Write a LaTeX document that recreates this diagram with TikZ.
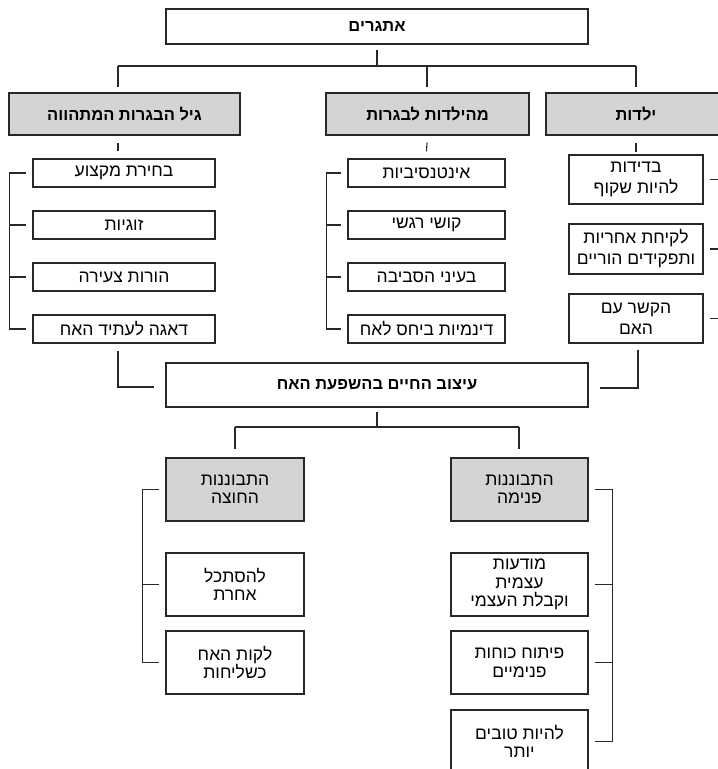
\documentclass[tikz,border=0pt]{standalone}
\usepackage{fontspec}
\setmainfont{Liberation Sans}
\newfontfamily\hebsans[Script=Hebrew]{Liberation Sans}
\TeXXeTstate=1
\usetikzlibrary{calc}
\newcommand\heb[1]{\beginR #1\endR}
\definecolor{boxgray}{RGB}{211,212,214}
\definecolor{linecol}{RGB}{40,40,40}
\tikzset{
  base/.style={draw=linecol, line width=1.1pt, inner sep=0pt, align=center, text=black},
  plainbox/.style={base, fill=white, font=\fontsize{17.5}{21}\hebsans},
  lowbox/.style={base, fill=white, font=\fontsize{17.5}{18.5}\hebsans},
  boldbox/.style={base, fill=white, font=\fontsize{16.5}{21}\hebsans\bfseries},
  grayhead/.style={base, fill=boxgray, font=\fontsize{16.5}{21}\hebsans\bfseries},
  graybox/.style={base, fill=boxgray, font=\fontsize{17.5}{18.5}\hebsans},
  conn/.style={draw=linecol, line width=1.1pt},
}
\begin{document}
\begin{tikzpicture}[x=1pt,y=-1pt]
\clip (0,0) rectangle (718,769);
\fill[white] (0,0) rectangle (718,769);
% top level
\node[boldbox, minimum width=422pt, minimum height=35pt] (top) at (377,26.5) {\heb{אתגרים}};
\node[grayhead, minimum width=231pt, minimum height=42pt] (g1) at (124.5,114) {\heb{גיל הבגרות המתהווה}};
\node[grayhead, minimum width=203pt, minimum height=42pt] (g2) at (427.5,114) {\heb{מהילדות לבגרות}};
\node[grayhead, minimum width=180pt, minimum height=42pt] (g3) at (636,114) {\heb{ילדות}};
% left column
\node[plainbox, minimum width=182pt, minimum height=28pt] (l1) at (124,173) {\heb{בחירת מקצוע}};
\node[plainbox, minimum width=182pt, minimum height=28pt] (l2) at (124,225) {\heb{זוגיות}};
\node[plainbox, minimum width=182pt, minimum height=28pt] (l3) at (124,277) {\heb{הורות צעירה}};
\node[plainbox, minimum width=182pt, minimum height=28pt] (l4) at (124,329) {\heb{דאגה לעתיד האח}};
% middle column
\node[plainbox, minimum width=157pt, minimum height=28pt] (m1) at (426.5,173) {\heb{אינטנסיביות}};
\node[plainbox, minimum width=157pt, minimum height=28pt] (m2) at (426.5,225) {\heb{קושי רגשי}};
\node[plainbox, minimum width=157pt, minimum height=28pt] (m3) at (426.5,277) {\heb{בעיני הסביבה}};
\node[plainbox, minimum width=157pt, minimum height=28pt] (m4) at (426.5,329) {\heb{דינמיות ביחס לאח}};
% right column
\node[plainbox, minimum width=134pt, minimum height=49pt] (r1) at (636,179.5) {\heb{בדידות}\\\heb{להיות שקוף}};
\node[plainbox, minimum width=134pt, minimum height=50pt] (r2) at (636,249) {\heb{לקיחת אחריות}\\\heb{ותפקידים הוריים}};
\node[plainbox, minimum width=134pt, minimum height=49pt] (r3) at (636,318.5) {\heb{הקשר עם}\\\heb{האם}};
% middle box
\node[boldbox, minimum width=422pt, minimum height=44pt] (mid) at (377,385) {\heb{עיצוב החיים בהשפעת האח}};
% lower level
\node[graybox, minimum width=138pt, minimum height=63pt] (p1) at (235,489.5) {\heb{התבוננות}\\\heb{החוצה}};
\node[graybox, minimum width=137pt, minimum height=63pt] (p2) at (519.5,489.5) {\heb{התבוננות}\\\heb{פנימה}};
\node[lowbox, minimum width=138pt, minimum height=63pt] (q1) at (235,584.5) {\heb{להסתכל}\\\heb{אחרת}};
\node[lowbox, minimum width=138pt, minimum height=63pt] (q2) at (235,662.5) {\heb{לקות האח}\\\heb{כשליחות}};
\node[lowbox, minimum width=137pt, minimum height=63pt] (s1) at (519.5,584.5) {\heb{מודעות}\\\heb{עצמית}\\\heb{וקבלת העצמי}};
\node[lowbox, minimum width=137pt, minimum height=63pt] (s2) at (519.5,662.5) {\heb{פיתוח כוחות}\\\heb{פנימיים}};
\node[lowbox, minimum width=137pt, minimum height=63pt] (s3) at (519.5,741.5) {\heb{להיות טובים}\\\heb{יותר}};
% connectors top
\coordinate (busA) at (118,66);
\coordinate (busB) at (636,66);
\draw[conn] (busA) -- (busB);
\draw[conn] ($(top.south)+(0,5)$) -- (top.south |- busA);
\draw[conn] (busA) -- ($(busA |- g1.north)+(0,-5)$);
\draw[conn] ($(g2.north |- busA)+(-0.5,0)$) -- ($(g2.north)+(-0.5,-5)$);
\draw[conn] (busB) -- ($(g3.north)+(0,-5)$);
% heading to first child
\draw[conn] ($(g1.south -| busA)+(0,7)$) -- ($(l1.north -| busA)+(0,-7)$);
\draw[conn] ($(g2.south)+(-0.5,7)$) -- ($(m1.north)+(0,-7)$);
\draw[conn] ($(g3.south)+(0,7)$) -- ($(r1.north)+(0,-2)$);
% left bracket
\draw[conn] ($(l1.west)+(-6,0)$) -- ++(-17,0) |- ($(l4.west)+(-6,0)$);
\draw[conn] ($(l2.west)+(-6,0)$) -- ++(-17,0);
\draw[conn] ($(l3.west)+(-6,0)$) -- ++(-17,0);
% middle bracket
\draw[conn] ($(m1.west)+(-6,0)$) -- ++(-15,0) |- ($(m4.west)+(-6,0)$);
\draw[conn] ($(m2.west)+(-6,0)$) -- ++(-15,0);
\draw[conn] ($(m3.west)+(-6,0)$) -- ++(-15,0);
% right bracket (runs beyond the edge)
\draw[conn] ($(r1.east)+(6,0)$) -- ++(18,0) |- ($(r3.east)+(6,0)$);
\draw[conn] ($(r2.east)+(6,0)$) -- ++(18,0);
% into middle box
\draw[conn] ($(l4.south -| busA)+(0,7)$) |- ($(mid.west)+(-11,2)$);
\draw[conn] ($(r3.south)+(2,6)$) |- ($(mid.east)+(11,3)$);
% middle box to lower headings
\coordinate (busC) at (235,427);
\coordinate (busD) at (519,427);
\draw[conn] (busC) -- (busD);
\draw[conn] ($(mid.south)+(0,4)$) -- (mid.south |- busC);
\draw[conn] (busC) -- ($(p1.north)+(0,-8)$);
\draw[conn] (busD) -- ($(busD |- p2.north)+(0,-8)$);
% lower left bracket
\draw[conn] ($(p1.west)+(-6,0)$) -- ++(-17,0) |- ($(q2.west)+(-6,0)$);
\draw[conn] ($(q1.west)+(-6,0)$) -- ++(-17,0);
% lower right bracket
\draw[conn] ($(p2.east)+(6,0)$) -- ++(18,0) |- ($(s3.east)+(6,0)$);
\draw[conn] ($(s1.east)+(6,0)$) -- ++(18,0);
\draw[conn] ($(s2.east)+(6,0)$) -- ++(18,0);
\end{tikzpicture}
\end{document}
